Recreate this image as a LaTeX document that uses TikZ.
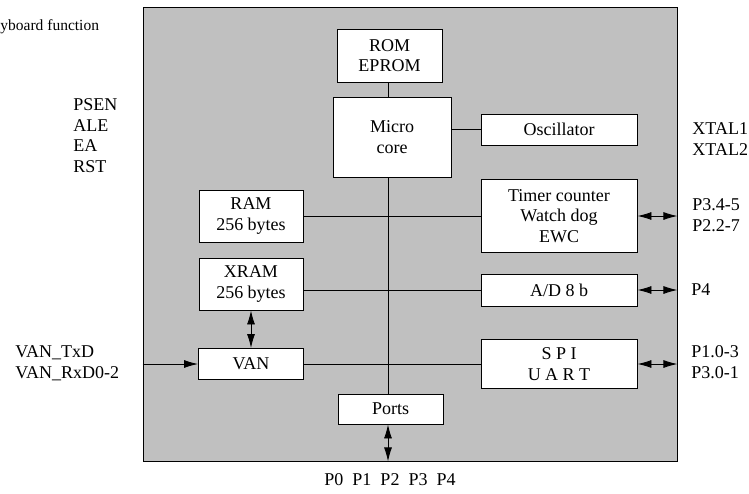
\documentclass[tikz,border=0pt]{standalone}
\usepackage{fontspec}
\setmainfont{Liberation Serif}
\usetikzlibrary{arrows.meta}
\definecolor{chipgray}{RGB}{192,192,192}
\begin{document}
\begin{tikzpicture}[x=1pt,y=-1pt,line width=0.9pt,
    >={Latex[length=14pt,width=8pt]},
    blk/.style={draw,fill=white,align=center,inner sep=0pt},
    pins/.style={align=left,inner sep=0pt}]
  \tikzstyle{every node}=[font=\fontsize{18}{20.7}\selectfont]
  \useasboundingbox (0,0) rectangle (749,493);
  \node[draw,fill=chipgray,inner sep=0pt,minimum width=534pt,minimum height=454pt] (chip) at (410,234) {};
  \coordinate (bus) at (388,0);

  \node[blk,minimum width=105pt,minimum height=53pt] (rom) at (389.5,55.5) {ROM\\EPROM};
  \node[blk,minimum width=118pt,minimum height=80pt] (core) at (392,137) {Micro\\core};
  \node[blk,minimum width=156pt,minimum height=31pt] (osc) at (559,129.5) {Oscillator};
  \node[blk,minimum width=156pt,minimum height=73pt] (timer) at (559,216) {Timer counter\\Watch dog\\EWC};
  \node[blk,minimum width=156pt,minimum height=32pt] (ad) at (559,290) {A/D 8 b};
  \node[blk,minimum width=156pt,minimum height=49pt] (spi) at (559,364) {S P I\\U A R T};
  \node[blk,minimum width=104pt,minimum height=52pt] (ram) at (251,216) {RAM\\256 bytes};
  \node[blk,minimum width=104pt,minimum height=52pt] (xram) at (251,284) {XRAM\\256 bytes};
  \node[blk,minimum width=105pt,minimum height=31pt] (van) at (251,364) {VAN};
  \node[blk,minimum width=105pt,minimum height=30pt] (ports) at (390.5,409) {Ports};

  \draw (rom.south -| bus) -- (core.north -| bus);
  \draw (core.south -| bus) -- (ports.north -| bus);
  \draw (core.east |- osc) -- (osc);
  \draw (ram) -- (timer);
  \draw (xram.east |- ad) -- (ad);
  \draw (van) -- (spi);
  \draw[<->] (xram) -- (van);
  \draw[<->] (ports.south -| bus) -- (chip.south -| bus);
  \draw[<->] (timer) -- (timer -| chip.east);
  \draw[<->] (ad) -- (ad -| chip.east);
  \draw[<->] (spi) -- (spi -| chip.east);
  \draw[->] (van -| chip.west) -- (van);

  \node[pins,anchor=base west,font=\fontsize{15.5}{18}\selectfont] (kbd) at (0,30) {yboard function};
  \node[pins,anchor=north west] (ctl) at (73,98) {PSEN\\ALE\\EA\\RST};
  \node[pins,anchor=north west] (xtal) at (692,122) {XTAL1\\XTAL2};
  \node[pins,anchor=west] (tpins) at (692,215) {P3.4-5\\P2.2-7};
  \node[pins,anchor=west] (adpin) at (691,290) {P4};
  \node[pins,anchor=west] (spipins) at (691,362) {P1.0-3\\P3.0-1};
  \node[pins,anchor=west] (vanpins) at (15,363) {VAN\_TxD\\VAN\_RxD0-2};
  \node[pins] (portpins) at (390,480) {P0\enspace P1\enspace P2\enspace P3\enspace P4};
\end{tikzpicture}
\end{document}
